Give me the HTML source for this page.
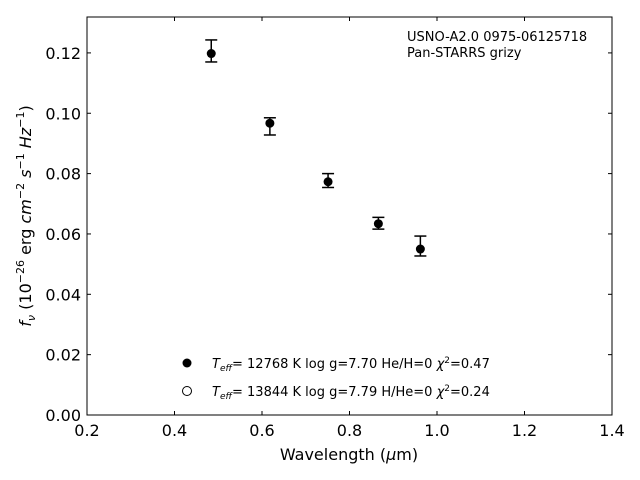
<!DOCTYPE html>
<html><head><meta charset="utf-8"><style>
body{margin:0;background:#fff;}
svg{display:block;font-family:"DejaVu Sans","Liberation Sans",sans-serif;}
</style></head><body>
<svg id="c" width="640" height="480" viewBox="0 0 640 480"></svg>
<script>
const wavelengths=[0.484,0.618,0.751,0.866,0.962];
const fluxes=[0.1198,0.0967,0.0773,0.0634,0.0550];
const errUpper=[0.1243,0.0985,0.0800,0.0655,0.0593];
const errLower=[0.1170,0.0928,0.0754,0.0616,0.0527];
const xTicks=[0.2,0.4,0.6,0.8,1.0,1.2,1.4];
const xTickLabels=["0.2","0.4","0.6","0.8","1.0","1.2","1.4"];
const yTicks=[0,0.02,0.04,0.06,0.08,0.10,0.12];
const yTickLabels=["0.00","0.02","0.04","0.06","0.08","0.10","0.12"];
const L=87,R=612,T=17,B=415,xmin=0.2,xmax=1.4,ymin=0,ymax=0.1319;
const sx=v=>L+(v-xmin)/(xmax-xmin)*(R-L);
const sy=v=>B-(v-ymin)/(ymax-ymin)*(B-T);
const svg=document.getElementById('c');
const NS="http://www.w3.org/2000/svg";
function mk(tag,attrs,text){const e=document.createElementNS(NS,tag);for(const k in attrs)e.setAttribute(k,attrs[k]);if(text!==undefined)e.textContent=text;svg.appendChild(e);return e;}
let e;
e=mk('rect',{x:L,y:T,width:R-L,height:B-T,fill:'none',stroke:'#000','stroke-width':1});


xTicks.forEach((v,i)=>{const x=sx(v);
e=mk('line',{x1:x,x2:x,y1:B,y2:B-4,stroke:'#000'});


e=mk('line',{x1:x,x2:x,y1:T,y2:T+4,stroke:'#000'});


e=mk('text',{x:x,y:B+21,'text-anchor':'middle','font-size':16},xTickLabels[i]);


});
yTicks.forEach((v,i)=>{const y=sy(v);
e=mk('line',{x1:L,x2:L+4,y1:y,y2:y,stroke:'#000'});


e=mk('line',{x1:R,x2:R-4,y1:y,y2:y,stroke:'#000'});


e=mk('text',{x:L-6,y:y+6,'text-anchor':'end','font-size':16},yTickLabels[i]);


});
wavelengths.forEach((w,i)=>{const x=sx(w);
e=mk('line',{x1:x,x2:x,y1:sy(errUpper[i]),y2:sy(errLower[i]),stroke:'#000','stroke-width':1.5});


[errUpper[i],errLower[i]].forEach(v=>{
e=mk('line',{x1:x-6,x2:x+6,y1:sy(v),y2:sy(v),stroke:'#000','stroke-width':1.5});


});
e=mk('circle',{cx:x,cy:sy(fluxes[i]),r:4.5,fill:'#000'});


});
</script>
<svg width="640" height="480" style="position:absolute;left:0;top:0" font-family="DejaVu Sans, Liberation Sans, sans-serif">
<text x="349" y="460" text-anchor="middle" font-size="16">Wavelength (<tspan font-style="italic">μ</tspan>m)</text>
<text transform="translate(31,216) rotate(-90)" text-anchor="middle" font-size="16"><tspan font-style="italic">f<tspan font-size="11" dy="4">ν</tspan></tspan><tspan dy="-4"> (10</tspan><tspan font-size="11" dy="-7">−26</tspan><tspan dy="7"> erg </tspan><tspan font-style="italic">cm</tspan><tspan font-size="11" dy="-7">−2</tspan><tspan dy="7" font-style="italic"> s</tspan><tspan font-size="11" dy="-7">−1</tspan><tspan dy="7" font-style="italic"> Hz</tspan><tspan font-size="11" dy="-7">−1</tspan><tspan dy="7">)</tspan></text>
<text x="407" y="41" font-size="13">USNO-A2.0 0975-06125718</text>
<text x="407" y="57" font-size="13">Pan-STARRS grizy</text>
<circle cx="187" cy="363" r="4.5" fill="#000"/>
<text x="212" y="368" font-size="13"><tspan font-style="italic">T</tspan><tspan font-size="9" dy="3" font-style="italic">eff</tspan><tspan dy="-3">= 12768 K  log g=7.70  He/H=0  </tspan><tspan font-style="italic">χ</tspan><tspan font-size="9" dy="-5">2</tspan><tspan dy="5">=0.47</tspan></text>
<circle cx="187" cy="391" r="4.5" fill="#fff" stroke="#000"/>
<text x="212" y="396" font-size="13"><tspan font-style="italic">T</tspan><tspan font-size="9" dy="3" font-style="italic">eff</tspan><tspan dy="-3">= 13844 K  log g=7.79  H/He=0  </tspan><tspan font-style="italic">χ</tspan><tspan font-size="9" dy="-5">2</tspan><tspan dy="5">=0.24</tspan></text>
</svg>
</body></html>
